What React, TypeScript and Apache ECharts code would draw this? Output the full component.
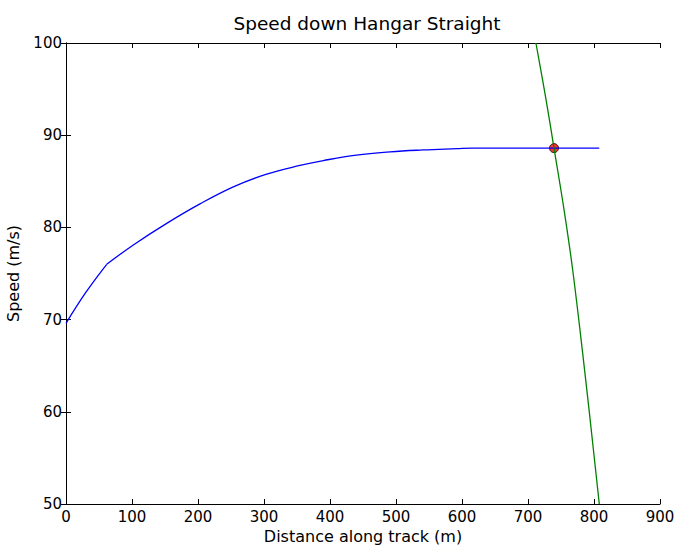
import React, { useEffect, useRef } from "react";
import * as echarts from "echarts";

const titleText = "Speed down Hangar Straight";
const xName = "Distance along track (m)";
const yName = "Speed (m/s)";

// Blue: speed achieved accelerating down the straight (two phases)
const accelDist1 = [0, 30, 61.7];
const accelSpeed1 = [69.6, 72.95, 76.0];
const accelDist2 = [61.7, 102, 152.6, 203, 253.5, 304, 354.5, 390, 440, 491, 541, 592, 615, 808];
const accelSpeed2 = [76.0, 78.1, 80.44, 82.55, 84.4, 85.78, 86.72, 87.25, 87.85, 88.2, 88.4, 88.54, 88.6, 88.6];

// Green: braking curve
const brakeDist = [712, 727, 739.4, 755.5, 768.4, 785.8, 800.3, 808];
const brakeSpeed = [100, 94, 88.6, 81.5, 75, 64.5, 55.1, 50];

// Intersection point
const crossDist = [739.4];
const crossSpeed = [88.6];

const FONT = "DejaVu Sans";

export default function App() {
  const ref = useRef<HTMLDivElement>(null);
  useEffect(() => {
    if (!ref.current) return;
    const chart = echarts.init(ref.current, undefined, { renderer: "svg" });
    const tickCommon = {
      axisLine: { show: true, lineStyle: { color: "#000", width: 1 } },
      axisTick: { show: true, inside: true, length: 5, lineStyle: { color: "#000", width: 1 } },
      splitLine: { show: false },
    };
    const lineCommon = { type: "line", showSymbol: false, clip: true, smooth: 0.4 };
    chart.setOption({
      animation: false,
      backgroundColor: "#fff",
      title: {
        text: titleText,
        left: 362,
        top: 9,
        textAlign: "center",
        textStyle: { fontFamily: FONT, fontSize: 18.5, fontWeight: "normal", color: "#000" },
      },
      grid: { left: 66, right: 18, top: 43, bottom: 43, show: false, outerBoundsMode: "none" },
      xAxis: [
        {
          type: "value",
          min: 0,
          max: 900,
          interval: 100,
          position: "bottom",
          name: xName,
          nameLocation: "middle",
          nameGap: 24,
          nameTextStyle: { fontFamily: FONT, fontSize: 16, color: "#000", verticalAlign: "top" },
          axisLabel: { fontFamily: FONT, fontSize: 15, color: "#000", margin: 5 },
          ...tickCommon,
        },
        {
          type: "value",
          min: 0,
          max: 900,
          interval: 100,
          position: "top",
          axisLabel: { show: false },
          ...tickCommon,
        },
      ],
      yAxis: [
        {
          type: "value",
          min: 50,
          max: 100,
          interval: 10,
          position: "left",
          name: yName,
          nameLocation: "middle",
          nameGap: 45,
          nameTextStyle: { fontFamily: FONT, fontSize: 16, color: "#000" },
          axisLabel: { fontFamily: FONT, fontSize: 15, color: "#000", margin: 4 },
          ...tickCommon,
        },
        {
          type: "value",
          min: 50,
          max: 100,
          interval: 10,
          position: "right",
          axisLabel: { show: false },
          ...tickCommon,
        },
      ],
      series: [
        {
          ...lineCommon,
          data: accelDist1.map((d, i) => [d, accelSpeed1[i]]),
          lineStyle: { color: "#0000ff", width: 1.3 },
        },
        {
          ...lineCommon,
          data: accelDist2.map((d, i) => [d, accelSpeed2[i]]),
          lineStyle: { color: "#0000ff", width: 1.3 },
        },
        {
          ...lineCommon,
          data: brakeDist.map((d, i) => [d, brakeSpeed[i]]),
          lineStyle: { color: "#008000", width: 1.3 },
        },
        {
          type: "scatter",
          data: crossDist.map((d, i) => [d, crossSpeed[i]]),
          symbol: "circle",
          symbolSize: 9,
          itemStyle: { color: "#ff0000", borderColor: "#000", borderWidth: 1 },
        },
      ],
    });
    return () => chart.dispose();
  }, []);
  return <div ref={ref} style={{ width: 678, height: 547, position: "fixed", left: 0, top: 0 }} />;
}
